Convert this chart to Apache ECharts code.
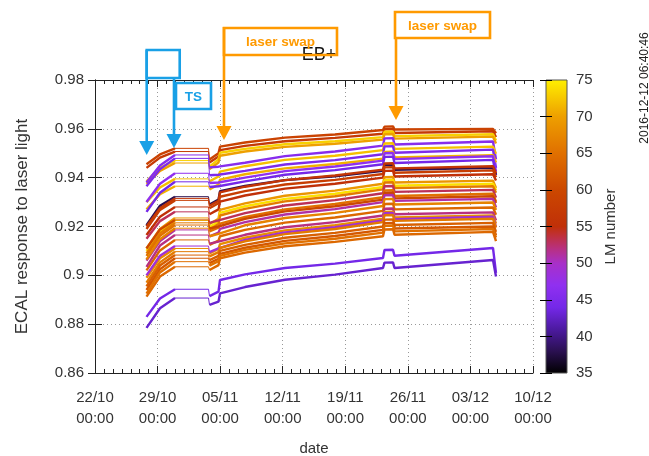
<!DOCTYPE html>
<html><head><meta charset="utf-8">
<script src="https://cdn.jsdelivr.net/npm/echarts@6/dist/echarts.min.js"></script>
<style>html,body{margin:0;padding:0;background:#fff}#c{width:649px;height:456px}</style>
</head><body><div id="c"></div>
<script>
// key sample times (start, first run, TS gap, pre-swap, post-swap run, swap bump, end)
const times = ['2016-10-27 18:15','2016-10-29 06:30','2016-10-30 22:50','2016-11-03 16:45','2016-11-03 19:25','2016-11-04 19:35','2016-11-04 23:40','2016-11-07 18:45','2016-11-12 06:10','2016-11-17 20:20','2016-11-23 05:15','2016-11-23 09:15','2016-11-24 08:05','2016-11-24 12:10','2016-12-05 12:35','2016-12-05 20:40'];
const lmNumbers = [59,57,73,70,46,72,45,71,47,44,38,56,58,55,69,74,66,53,65,60,51,67,64,52,68,49,66,63,62,65,64,44,43];
const s01 = [.9455,.9495,.9520,.9520,.9474,.9500,.9527,.9544,.9564,.9577,.9595,.9609,.9610,.9597,.9600,.9582];
const s02 = [.9440,.9482,.9507,.9507,.9462,.9487,.9513,.9530,.9549,.9563,.9580,.9598,.9599,.9583,.9590,.9566];
const s03 = [.9385,.9440,.9470,.9470,.9445,.9475,.9502,.9518,.9537,.9549,.9566,.9588,.9589,.9570,.9578,.9552];
const s04 = [.9375,.9428,.9460,.9460,.9435,.9462,.9490,.9507,.9526,.9539,.9556,.9578,.9579,.9560,.9568,.9540];
const s05 = [.9380,.9450,.9493,.9493,.9442,.9445,.9438,.9461,.9488,.9507,.9531,.9561,.9562,.9536,.9548,.9475];
const s06 = [.9300,.9360,.9395,.9395,.9385,.9405,.9425,.9447,.9473,.9490,.9513,.9540,.9541,.9518,.9527,.9498];
const s07 = [.9365,.9435,.9479,.9479,.9410,.9412,.9405,.9428,.9454,.9472,.9496,.9528,.9529,.9502,.9515,.9440];
const s08 = [.9270,.9332,.9365,.9365,.9352,.9372,.9392,.9414,.9438,.9456,.9478,.9505,.9506,.9483,.9492,.9462];
const s09 = [.9300,.9375,.9418,.9418,.9378,.9380,.9377,.9400,.9427,.9446,.9470,.9500,.9501,.9476,.9488,.9425];
const s10 = [.9260,.9338,.9383,.9383,.9362,.9365,.9362,.9385,.9412,.9431,.9455,.9485,.9486,.9460,.9473,.9410];
const s11 = [.9205,.9285,.9322,.9322,.9290,.9310,.9345,.9366,.9390,.9406,.9428,.9452,.9453,.9432,.9440,.9412];
const s12 = [.9200,.9275,.9315,.9315,.9285,.9305,.9340,.9363,.9390,.9409,.9433,.9458,.9459,.9438,.9447,.9418];
const s13 = [.9190,.9268,.9307,.9307,.9275,.9295,.9322,.9345,.9372,.9391,.9415,.9442,.9443,.9420,.9430,.9402];
const s14 = [.9165,.9240,.9280,.9280,.9250,.9270,.9302,.9327,.9355,.9375,.9400,.9428,.9429,.9405,.9414,.9388];
const s15 = [.9110,.9190,.9235,.9235,.9210,.9232,.9268,.9295,.9326,.9347,.9375,.9402,.9403,.9380,.9388,.9358];
const s16 = [.9100,.9180,.9225,.9225,.9198,.9220,.9256,.9283,.9313,.9334,.9362,.9390,.9391,.9367,.9375,.9348];
const s17 = [.9090,.9172,.9215,.9215,.9188,.9210,.9245,.9272,.9303,.9324,.9352,.9380,.9381,.9357,.9365,.9338];
const s18 = [.9150,.9222,.9260,.9260,.9215,.9225,.9228,.9255,.9286,.9308,.9336,.9365,.9366,.9342,.9350,.9318];
const s19 = [.9080,.9162,.9206,.9206,.9180,.9195,.9212,.9239,.9270,.9292,.9320,.9348,.9349,.9325,.9334,.9302];
const s20 = [.9110,.9188,.9227,.9227,.9192,.9200,.9205,.9231,.9262,.9283,.9310,.9338,.9339,.9315,.9324,.9296];
const s21 = [.9060,.9140,.9186,.9186,.9160,.9175,.9190,.9218,.9249,.9271,.9300,.9328,.9329,.9305,.9313,.9278];
const s22 = [.9065,.9148,.9193,.9193,.9160,.9170,.9178,.9205,.9235,.9256,.9284,.9312,.9313,.9290,.9298,.9268];
const s23 = [.9020,.9102,.9145,.9145,.9125,.9142,.9160,.9186,.9216,.9237,.9264,.9292,.9293,.9270,.9278,.9248];
const s24 = [.9035,.9122,.9165,.9165,.9130,.9138,.9140,.9166,.9197,.9218,.9245,.9273,.9274,.9250,.9258,.9225];
const s25 = [.8990,.9070,.9110,.9110,.9090,.9108,.9128,.9154,.9184,.9205,.9232,.9260,.9261,.9237,.9245,.9212];
const s26 = [.9000,.9080,.9120,.9120,.9095,.9110,.9118,.9145,.9176,.9197,.9225,.9254,.9255,.9230,.9240,.9198];
const s27 = [.8970,.9053,.9097,.9097,.9078,.9095,.9112,.9139,.9169,.9190,.9218,.9246,.9247,.9223,.9232,.9195];
const s28 = [.8955,.9040,.9083,.9083,.9062,.9080,.9100,.9125,.9154,.9174,.9200,.9228,.9229,.9206,.9215,.9178];
const s29 = [.8940,.9025,.9070,.9070,.9050,.9068,.9088,.9113,.9141,.9161,.9186,.9214,.9215,.9192,.9200,.9165];
const s30 = [.8925,.9012,.9056,.9056,.9040,.9058,.9080,.9104,.9131,.9150,.9175,.9203,.9204,.9180,.9190,.9155];
const s31 = [.8913,.8995,.9035,.9035,.9022,.9042,.9070,.9093,.9119,.9137,.9160,.9188,.9189,.9166,.9178,.9140];
const s32 = [.8830,.8905,.8943,.8943,.8915,.8933,.8981,.9004,.9030,.9048,.9071,.9104,.9105,.9080,.9112,.9010];
const s33 = [.8785,.8865,.8907,.8907,.8879,.8892,.8926,.8952,.8982,.9003,.9030,.9052,.9053,.9030,.9063,.8995];
const allSeries = [s01,s02,s03,s04,s05,s06,s07,s08,s09,s10,s11,s12,s13,s14,s15,s16,s17,s18,s19,s20,s21,s22,s23,s24,s25,s26,s27,s28,s29,s30,s31,s32,s33];

const yTicks = [0.86,0.98,0.02];
const lmRange = [35,75,5];
const axisStart = '2016-10-22 00:00';
const axisEnd = '2016-12-10 00:00';
const annotDates = ['2016-10-27 18:50','2016-10-30 20:05','2016-11-05 10:20','2016-11-24 16:10'];
const annotTips = [0.9493,0.9521,0.9554,0.9636];
const titleText = 'EB+';
const stampText = '2016-12-12 06:40:46';

function toMs(s){const [d,t]=s.split(' ');const [Y,M,D]=d.split('-').map(Number);const [h,m]=t.split(':').map(Number);return Date.UTC(Y,M-1,D,h,m);}
const t0 = toMs(axisStart);
const toDays = s => (toMs(s)-t0)/864e5;
const days = times.map(toDays);

const paletteStops = [[35,'#000000'],[38,'#2a1050'],[41,'#4c1aa0'],[44,'#7428e8'],[47,'#9030f0'],[50,'#a830c8'],[52,'#b83080'],[54,'#c03030'],[55,'#c03008'],[60,'#cc4800'],[65,'#e07000'],[70,'#eea000'],[75,'#fff000']];
function hex2rgb(h){return [1,3,5].map(i=>parseInt(h.substr(i,2),16));}
function colorFor(v){
  for(let i=0;i<paletteStops.length-1;i++){
    const [a,ca]=paletteStops[i],[b,cb]=paletteStops[i+1];
    if(v>=a&&v<=b){const f=(v-a)/(b-a);const A=hex2rgb(ca),B=hex2rgb(cb);
      return 'rgb('+A.map((x,k)=>Math.round(x+(B[k]-x)*f)).join(',')+')';}
  }
  return paletteStops[paletteStops.length-1][1];
}
const grad = {type:'linear',x:0,y:1,x2:0,y2:0,colorStops:paletteStops.map(([v,c])=>({offset:(v-lmRange[0])/(lmRange[1]-lmRange[0]),color:c}))};

const FONT = 'Liberation Sans';
const series = [];
allSeries.forEach((vals,k)=>{
  const col = colorFor(lmNumbers[k]);
  series.push({type:'line',xAxisIndex:0,yAxisIndex:0,showSymbol:false,silent:true,connectNulls:false,
    lineStyle:{width:1,color:col},itemStyle:{color:col},
    data:[2,3,4].map(i=>[days[i],vals[i]])});
  series.push({type:'line',xAxisIndex:0,yAxisIndex:0,showSymbol:false,silent:true,connectNulls:false,
    lineStyle:{width:2.4,color:col},itemStyle:{color:col},
    data:vals.map((v,i)=>[days[i], i===3?null:v])});
});

function fmtDate(v){const d=new Date(t0+v*864e5);const p=n=>String(n).padStart(2,'0');
  return p(d.getUTCDate())+'/'+p(d.getUTCMonth()+1)+'\n'+p(d.getUTCHours())+':'+p(d.getUTCMinutes());}

const xMax = toDays(axisEnd);
const axisCol = '#222';
const option = {
  animation:false,
  backgroundColor:'#fff',
  title:{text:titleText,left:314,top:41,textAlign:'center',textStyle:{fontFamily:FONT,fontSize:18,fontWeight:'normal',color:'#111'}},
  grid:[{left:95,top:80,width:438,height:293,show:false,containLabel:false,outerBoundsMode:'none'},
        {left:546,top:80,width:21,height:293,show:true,containLabel:false,outerBoundsMode:'none',backgroundColor:grad,borderColor:'#555',borderWidth:1}],
  xAxis:[
    {type:'value',gridIndex:0,min:0,max:xMax,interval:7,position:'bottom',
     axisLine:{lineStyle:{color:axisCol}},axisTick:{inside:true,length:7,lineStyle:{color:axisCol}},
     minorTick:{show:true,splitNumber:7,length:4,lineStyle:{color:axisCol}},
     axisLabel:{formatter:fmtDate,fontFamily:FONT,fontSize:15,color:'#333',lineHeight:21,margin:14},
     splitLine:{show:true,lineStyle:{type:[1,3],color:'#999'}},
     name:'date',nameLocation:'middle',nameGap:68,nameTextStyle:{fontFamily:FONT,fontSize:15,color:'#333'}},
    {type:'value',gridIndex:0,min:0,max:xMax,interval:7,position:'top',
     axisLine:{lineStyle:{color:axisCol}},axisTick:{inside:true,length:7,lineStyle:{color:axisCol}},
     minorTick:{show:true,splitNumber:7,length:4,lineStyle:{color:axisCol}},
     axisLabel:{show:false},splitLine:{show:false}},
    {type:'value',gridIndex:1,min:0,max:1,show:false}
  ],
  yAxis:[
    {type:'value',gridIndex:0,min:yTicks[0],max:yTicks[1],interval:yTicks[2],position:'left',
     axisLine:{show:true,lineStyle:{color:axisCol}},axisTick:{show:true,inside:true,length:7,lineStyle:{color:axisCol}},
     axisLabel:{fontFamily:FONT,fontSize:15,color:'#333',margin:11},
     splitLine:{show:true,lineStyle:{type:[1,3],color:'#999'}},
     name:'ECAL response to laser light',nameLocation:'middle',nameRotate:90,nameGap:64,
     nameTextStyle:{fontFamily:FONT,fontSize:17,color:'#333'}},
    {type:'value',gridIndex:0,min:yTicks[0],max:yTicks[1],interval:yTicks[2],position:'right',
     axisLine:{show:true,lineStyle:{color:axisCol}},axisTick:{show:true,inside:true,length:7,lineStyle:{color:axisCol}},
     axisLabel:{show:false},splitLine:{show:false}},
    {type:'value',gridIndex:1,min:lmRange[0],max:lmRange[1],interval:lmRange[2],position:'right',
     axisLine:{show:false},axisTick:{show:true,inside:true,length:6,lineStyle:{color:'#000'}},
     axisLabel:{fontFamily:FONT,fontSize:15,color:'#333',margin:9},splitLine:{show:false},
     name:'LM number',nameLocation:'middle',nameRotate:90,nameGap:36,
     nameTextStyle:{fontFamily:FONT,fontSize:15,color:'#333'}},
    {type:'value',gridIndex:1,min:lmRange[0],max:lmRange[1],interval:lmRange[2],position:'left',
     axisLine:{show:false},axisTick:{show:true,inside:true,length:6,lineStyle:{color:'#000'}},
     axisLabel:{show:false},splitLine:{show:false}}
  ],
  series:series
};
const chart = echarts.init(document.getElementById('c'),null,{renderer:'canvas'});
chart.setOption(option);

// annotations positioned through the axes
const BLUE='#19a0e6', ORANGE='#ff9a00';
const pts = annotDates.map((d,i)=>chart.convertToPixel({xAxisIndex:0,yAxisIndex:0},[toDays(d),annotTips[i]]));
function arrow(x,yTop,tip,col){
  return [
    {type:'line',z:100,shape:{x1:x,y1:yTop,x2:x,y2:tip-13},style:{stroke:col,lineWidth:2.6}},
    {type:'polygon',z:100,shape:{points:[[x-7.5,tip-14],[x+7.5,tip-14],[x,tip]]},style:{fill:col}}
  ];
}
function box(x1,y1,x2,y2,col,text){
  const els=[{type:'rect',z:100,shape:{x:x1,y:y1,width:x2-x1,height:y2-y1},style:{fill:null,stroke:col,lineWidth:2.6}}];
  if(text) els.push({type:'text',z:101,x:(x1+x2)/2,y:(y1+y2)/2+1,style:{text:text,fill:col,font:'bold 13.5px "Liberation Sans"',align:'center',verticalAlign:'middle'}});
  return els;
}
const g = [];
const [a1,a2,a3,a4] = pts;
g.push(...box(a1[0],50,a1[0]+33,78,BLUE,''));
g.push(...arrow(a1[0],50,a1[1],BLUE));
g.push(...arrow(a2[0],78,a2[1],BLUE));
g.push(...box(a2[0]+2,83,a2[0]+37,109,BLUE,'TS'));
g.push(...box(a3[0],28,a3[0]+113,55,ORANGE,'laser swap'));
g.push(...arrow(a3[0],27,a3[1],ORANGE));
g.push(...box(a4[0]-1,12,a4[0]+94,38,ORANGE,'laser swap'));
g.push(...arrow(a4[0],38,a4[1],ORANGE));
g.push({type:'text',z:101,x:645,y:88,rotation:Math.PI/2,style:{text:stampText,fill:'#222',font:'12px "Liberation Sans"',align:'center',verticalAlign:'middle'}});
chart.setOption({graphic:g});
</script></body></html>
